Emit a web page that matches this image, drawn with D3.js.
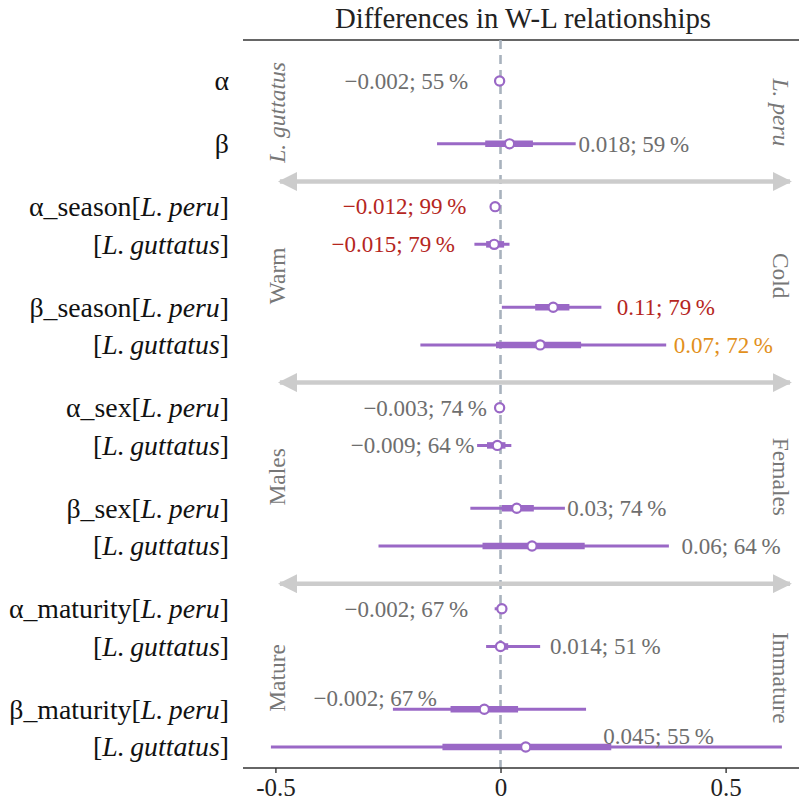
<!DOCTYPE html>
<html>
<head>
<meta charset="utf-8">
<script src="https://cdn.jsdelivr.net/npm/d3@7/dist/d3.min.js"></script>
<style>
  html, body { margin: 0; padding: 0; background: #fff; }
  svg { display: block; }
</style>
</head>
<body>
<svg id="chart" width="799" height="804"></svg>
<script>
// ---------------- data ----------------
const title = "Differences in W-L relationships";
const rowParam   = ["α", "β", "α_season", "", "β_season", "", "α_sex", "", "β_sex", "", "α_maturity", "", "β_maturity", ""];
const rowSpecies = ["", "", "L.\u2009peru", "L.\u2009guttatus", "L.\u2009peru", "L.\u2009guttatus", "L.\u2009peru", "L.\u2009guttatus",
                    "L.\u2009peru", "L.\u2009guttatus", "L.\u2009peru", "L.\u2009guttatus", "L.\u2009peru", "L.\u2009guttatus"];
const meanVals = [-0.002, 0.020, -0.012, -0.014, 0.117, 0.088, -0.002, -0.007, 0.036, 0.070, 0.003, 0.000, -0.036, 0.056];
const lo95 = [-0.010, -0.141, -0.020, -0.058, 0.003, -0.178, -0.008, -0.052, -0.067, -0.271, -0.013, -0.032, -0.239, -0.510];
const hi95 = [ 0.008,  0.167, -0.004,  0.020, 0.224,  0.368,  0.004,  0.024,  0.143,  0.374,  0.011,  0.088,  0.190,  0.625];
const lo50 = [-0.006, -0.034, -0.016, -0.032, 0.077, -0.010, -0.005, -0.030,  0.003, -0.040, -0.006, -0.010, -0.111, -0.129];
const hi50 = [ 0.004,  0.072, -0.008,  0.008, 0.153,  0.179,  0.001,  0.011,  0.074,  0.187,  0.009,  0.017,  0.039,  0.246];
const estText = ["−0.002", "0.018", "−0.012", "−0.015", "0.11", "0.07", "−0.003", "−0.009", "0.03", "0.06", "−0.002", "0.014", "−0.002", "0.045"];
const probPct = [55, 59, 99, 79, 79, 72, 74, 64, 74, 64, 67, 51, 67, 55];
const labelTone = ["grey", "grey", "red", "red", "red", "orange", "grey", "grey", "grey", "grey", "grey", "grey", "grey", "grey"];
const labelPlace = ["left", "right", "left", "left", "right", "right", "left", "left", "right", "right", "left", "right", "left-above", "right-above"];
const labelAt = [-0.072, 0.173, -0.076, -0.101, 0.258, 0.385, -0.030, -0.058, 0.148, 0.402, -0.072, 0.110, -0.141, 0.228];
const groupFirst = [0, 2, 6, 10];
const groupLast  = [1, 5, 9, 13];
const groupLeft  = ["L. guttatus", "Warm", "Males", "Mature"];
const groupRight = ["L. peru", "Cold", "Females", "Immature"];
const groupItalic = [true, false, false, false];
const xTicks = [-0.5, 0, 0.5];
const xTickLabels = ["-0.5", "0", "0.5"];
const xDomain = [-0.572, 0.663];
const arrowSpan = [-0.49, 0.643];

// ---------------- layout ----------------
const W = 799, H = 804;
const plotL = 243, plotR = 799, plotT = 40, plotB = 768;
const serif = "'Liberation Serif', 'DejaVu Serif', serif";
const purple = "#9a68c6";
const toneColor = { grey: "#6e6e6e", red: "#b5261e", orange: "#e2901c" };

// vertical unit positions: new parameter row = +1, continuation row = +0.6
const pos = [];
rowParam.forEach((p, i) => {
  if (i === 0) pos.push(0);
  else pos.push(pos[i - 1] + (p === "" ? 0.6 : 1.0));
});

const x = d3.scaleLinear().domain(xDomain).range([plotL, plotR]);
const y = d3.scaleLinear().domain([0, pos[pos.length - 1]]).range([81, 747]);

const svg = d3.select("#chart");

// title
svg.append("text")
  .attr("x", (plotL + plotR) / 2 + 2).attr("y", 28)
  .attr("text-anchor", "middle")
  .attr("font-family", serif).attr("font-size", 28.8)
  .attr("fill", "#222")
  .text(title);

// top border line
svg.append("line")
  .attr("x1", plotL).attr("x2", plotR).attr("y1", plotT).attr("y2", plotT)
  .attr("stroke", "#333").attr("stroke-width", 1.6);

// zero dashed line
svg.append("line")
  .attr("x1", x(0)).attr("x2", x(0)).attr("y1", plotT).attr("y2", plotB)
  .attr("stroke", "#a8b2bd").attr("stroke-width", 2.6)
  .attr("stroke-dasharray", "9,6");

// group separator arrows
const defs = svg.append("defs");
defs.append("marker").attr("id", "ah").attr("viewBox", "0 0 10 10")
  .attr("refX", 9).attr("refY", 5).attr("markerWidth", 19).attr("markerHeight", 19)
  .attr("markerUnits", "userSpaceOnUse").attr("orient", "auto-start-reverse")
  .append("path").attr("d", "M0,0 L10,5 L0,10 Z").attr("fill", "#cccccc");

groupLast.slice(0, -1).forEach(li => {
  const yy = y(pos[li] + 0.6);
  svg.append("line")
    .attr("x1", x(arrowSpan[0])).attr("x2", x(arrowSpan[1]))
    .attr("y1", yy).attr("y2", yy)
    .attr("stroke", "#cccccc").attr("stroke-width", 4.5)
    .attr("marker-start", "url(#ah)").attr("marker-end", "url(#ah)");
});

// side labels
groupFirst.forEach((fi, g) => {
  const cy = y((pos[fi] + pos[groupLast[g]]) / 2);
  const lx = plotL + 34, rx = plotR - 18;
  svg.append("text")
    .attr("transform", `translate(${lx},${cy}) rotate(-90)`)
    .attr("text-anchor", "middle").attr("dominant-baseline", "central")
    .attr("font-family", serif).attr("font-size", 23.5)
    .attr("font-style", groupItalic[g] ? "italic" : "normal")
    .attr("fill", "#777").text(groupLeft[g]);
  svg.append("text")
    .attr("transform", `translate(${rx},${cy}) rotate(90)`)
    .attr("text-anchor", "middle").attr("dominant-baseline", "central")
    .attr("font-family", serif).attr("font-size", 23.5)
    .attr("font-style", groupItalic[g] ? "italic" : "normal")
    .attr("fill", "#777").text(groupRight[g]);
});

// rows
const rows = rowParam.map((p, i) => ({
  i, p, sp: rowSpecies[i], m: meanVals[i], l95: lo95[i], h95: hi95[i], l50: lo50[i], h50: hi50[i],
  txt: `${estText[i]}; ${probPct[i]}\u2009%`, tone: labelTone[i], place: labelPlace[i], at: labelAt[i]
}));

const g = svg.append("g");
g.selectAll(".thin").data(rows).join("line")
  .attr("x1", d => x(d.l95)).attr("x2", d => x(d.h95))
  .attr("y1", d => y(pos[d.i])).attr("y2", d => y(pos[d.i]))
  .attr("stroke", purple).attr("stroke-width", 3);
g.selectAll(".thick").data(rows).join("line")
  .attr("x1", d => x(d.l50)).attr("x2", d => x(d.h50))
  .attr("y1", d => y(pos[d.i])).attr("y2", d => y(pos[d.i]))
  .attr("stroke", purple).attr("stroke-width", 6.5);
g.selectAll("circle").data(rows).join("circle")
  .attr("cx", d => x(d.m)).attr("cy", d => y(pos[d.i])).attr("r", 4.6)
  .attr("fill", "#fff").attr("stroke", purple).attr("stroke-width", 2.2);

// value labels
svg.selectAll(".val").data(rows).join("text")
  .attr("class", "val")
  .attr("x", d => x(d.at))
  .attr("y", d => y(pos[d.i]) - (d.place.endsWith("above") ? 11 : 0))
  .attr("dy", "0.34em")
  .attr("text-anchor", d => d.place.startsWith("left") ? "end" : "start")
  .attr("font-family", serif).attr("font-size", 23)
  .attr("fill", d => toneColor[d.tone])
  .text(d => d.txt);

// row labels
const rl = svg.selectAll(".rl").data(rows).join("text")
  .attr("class", "rl")
  .attr("x", 229).attr("y", d => y(pos[d.i])).attr("dy", "0.34em")
  .attr("text-anchor", "end")
  .attr("font-family", serif).attr("font-size", 27.8).attr("fill", "#111");
rl.each(function(d) {
  const t = d3.select(this);
  if (d.p) t.append("tspan").text(d.p);
  if (d.sp) {
    t.append("tspan").text("[");
    t.append("tspan").attr("font-style", "italic").text(d.sp);
    t.append("tspan").text("]");
  }
});

// bottom axis
const axis = svg.append("g").attr("transform", `translate(0,${plotB})`)
  .call(d3.axisBottom(x).tickValues(xTicks).tickFormat((d, i) => xTickLabels[i]).tickSize(5).tickPadding(5));
axis.select(".domain").attr("d", `M${plotL},0H${plotR}`).attr("stroke", "#333").attr("stroke-width", 1.6);
axis.selectAll(".tick line").attr("stroke", "#333").attr("stroke-width", 1.4);
axis.selectAll(".tick text").attr("font-family", serif).attr("font-size", 25).attr("fill", "#222");
</script>
</body>
</html>
